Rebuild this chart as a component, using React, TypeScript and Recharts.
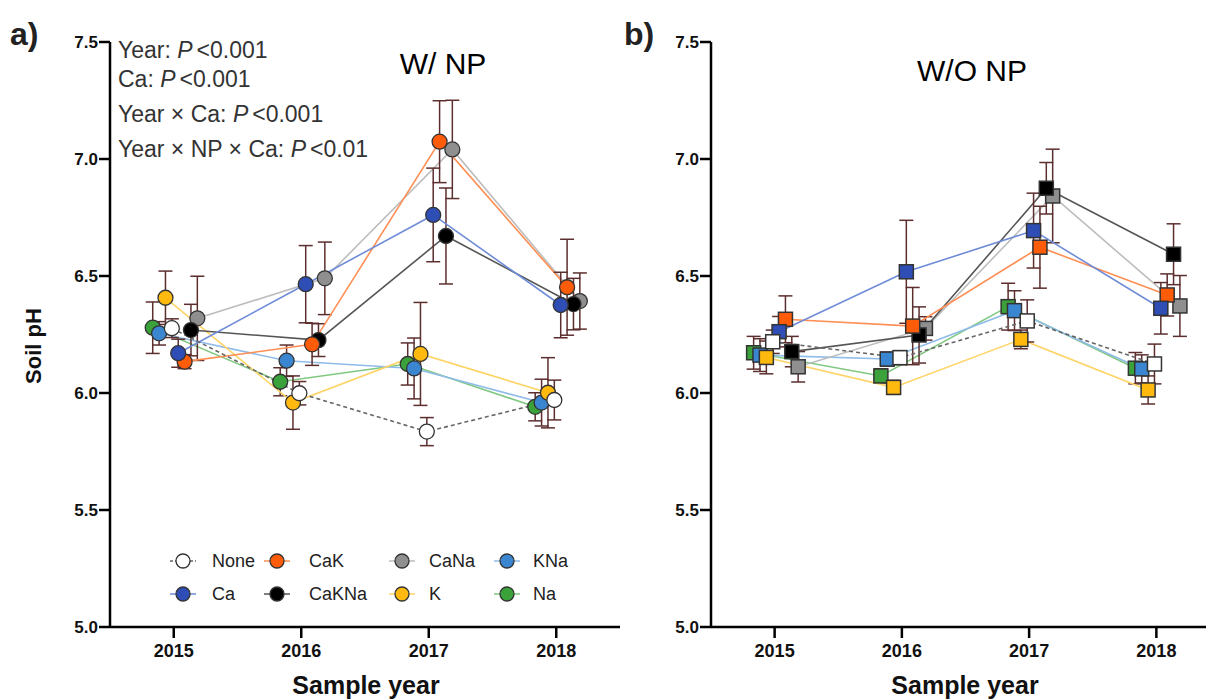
import { LineChart, Line, XAxis, YAxis, ErrorBar } from 'recharts';

// Sample years and axis ticks
const years = [2015, 2016, 2017, 2018];
const yTicks = [5.0, 5.5, 6.0, 6.5, 7.0, 7.5];

// a) W/ NP – mean soil pH
const aNone = [6.277, 5.999, 5.835, 5.97];
const aCa = [6.17, 6.465, 6.761, 6.376];
const aCaK = [6.134, 6.208, 7.074, 6.452];
const aCaKNa = [6.269, 6.226, 6.671, 6.38];
const aCaNa = [6.319, 6.49, 7.041, 6.393];
const aK = [6.407, 5.959, 6.167, 6.001];
const aKNa = [6.255, 6.138, 6.105, 5.959];
const aNa = [6.279, 6.048, 6.124, 5.941];

// a) W/ NP – standard errors
const aNoneSe = [0.04, 0.05, 0.06, 0.085];
const aCaSe = [0.06, 0.165, 0.2, 0.14];
const aCaKSe = [0.03, 0.09, 0.175, 0.205];
const aCaKNaSe = [0.11, 0.07, 0.205, 0.11];
const aCaNaSe = [0.18, 0.155, 0.21, 0.12];
const aKSe = [0.114, 0.114, 0.22, 0.15];
const aKNaSe = [0.05, 0.067, 0.13, 0.1];
const aNaSe = [0.11, 0.06, 0.09, 0.06];

// b) W/O NP – mean soil pH
const bNone = [6.219, 6.151, 6.308, 6.124];
const bCa = [6.262, 6.518, 6.694, 6.362];
const bCaK = [6.315, 6.286, 6.623, 6.419];
const bCaKNa = [6.177, 6.248, 6.875, 6.593];
const bCaNa = [6.112, 6.276, 6.842, 6.372];
const bK = [6.152, 6.024, 6.229, 6.013];
const bKNa = [6.162, 6.145, 6.352, 6.103];
const bNa = [6.172, 6.073, 6.369, 6.106];

// b) W/O NP – standard errors
const bNoneSe = [0.05, 0.03, 0.09, 0.085];
const bCaSe = [0.065, 0.22, 0.16, 0.11];
const bCaKSe = [0.1, 0.165, 0.175, 0.09];
const bCaKNaSe = [0.065, 0.12, 0.11, 0.13];
const bCaNaSe = [0.065, 0.05, 0.2, 0.13];
const bKSe = [0.07, 0.03, 0.04, 0.06];
const bKNaSe = [0.07, 0.03, 0.085, 0.06];
const bNaSe = [0.07, 0.03, 0.1, 0.067];

// series styling (dodge = horizontal shift in years so points don't overlap)
const seriesStyle = [
  { name: 'None', fill: '#ffffff', line: '#666666', dash: '4 3', dodge: -0.015 },
  { name: 'Ca', fill: '#2e4db5', line: '#6f8cd8', dash: undefined, dodge: 0.035 },
  { name: 'CaK', fill: '#ff5c0a', line: '#ff8f55', dash: undefined, dodge: 0.085 },
  { name: 'CaKNa', fill: '#000000', line: '#555555', dash: undefined, dodge: 0.135 },
  { name: 'CaNa', fill: '#8f8f8f', line: '#bdbdbd', dash: undefined, dodge: 0.185 },
  { name: 'K', fill: '#ffb90f', line: '#ffd466', dash: undefined, dodge: -0.065 },
  { name: 'KNa', fill: '#3b86d1', line: '#8fbce9', dash: undefined, dodge: -0.115 },
  { name: 'Na', fill: '#3ba23b', line: '#80c880', dash: undefined, dodge: -0.165 },
];

const aMeans = [aNone, aCa, aCaK, aCaKNa, aCaNa, aK, aKNa, aNa];
const aSes = [aNoneSe, aCaSe, aCaKSe, aCaKNaSe, aCaNaSe, aKSe, aKNaSe, aNaSe];
const bMeans = [bNone, bCa, bCaK, bCaKNa, bCaNa, bK, bKNa, bNa];
const bSes = [bNoneSe, bCaSe, bCaKSe, bCaKNaSe, bCaNaSe, bKSe, bKNaSe, bNaSe];

const FONT = '"Liberation Sans", Arial, Helvetica, sans-serif';
const ERR = '#5c2e2e';

const buildRows = (means: number[], ses: number[], dodge: number) =>
  years.map((yr, i) => ({ x: yr + dodge, y: means[i], err: ses[i] }));

const makeSquare = (fill: string) => (p: any) => {
  if (p.cx == null || p.cy == null) return <g key={`sq-${p.index}`} />;
  return (
    <rect
      key={`sq-${p.index}`}
      x={p.cx - 7}
      y={p.cy - 7}
      width={14}
      height={14}
      fill={fill}
      stroke="#333"
      strokeWidth={1.5}
      strokeDasharray="none"
    />
  );
};

type PanelProps = {
  means: number[][];
  ses: number[][];
  square?: boolean;
  width: number;
  margin: { top: number; right: number; bottom: number; left: number };
};

const Panel = ({ means, ses, square, width, margin }: PanelProps) => {
  // draw back-to-front so None / Ca end up on top like the original
  const order = [7, 6, 5, 4, 3, 2, 1, 0];
  return (
    <LineChart width={width} height={700} margin={margin}>
      <XAxis
        type="number"
        dataKey="x"
        domain={[2014.5, 2018.5]}
        ticks={years}
        allowDataOverflow
        height={73}
        tickSize={11}
        tickMargin={6}
        axisLine={{ stroke: '#000', strokeWidth: 2.5 }}
        tickLine={{ stroke: '#000', strokeWidth: 2.5 }}
        tick={{ fill: '#111', fontSize: 18, fontWeight: 700, fontFamily: FONT }}
      />
      <YAxis
        type="number"
        domain={[5, 7.5]}
        ticks={yTicks}
        allowDataOverflow
        width={70}
        tickSize={11}
        tickMargin={1}
        tickFormatter={(v: number) => v.toFixed(1)}
        axisLine={{ stroke: '#000', strokeWidth: 2.5 }}
        tickLine={{ stroke: '#000', strokeWidth: 2.5 }}
        tick={{ fill: '#111', fontSize: 17, fontWeight: 700, fontFamily: FONT }}
      />
      {order.map(i => {
        const s = seriesStyle[i];
        return (
          <Line
            key={s.name}
            data={buildRows(means[i], ses[i], s.dodge)}
            dataKey="y"
            name={s.name}
            stroke={s.line}
            strokeWidth={1.6}
            strokeDasharray={s.dash}
            isAnimationActive={false}
            activeDot={false}
            dot={
              square
                ? makeSquare(s.fill)
                : { r: 7.5, fill: s.fill, stroke: '#333', strokeWidth: 1.3, strokeDasharray: 'none' }
            }
          >
            <ErrorBar dataKey="err" direction="y" width={7} stroke={ERR} strokeWidth={1.5} />
          </Line>
        );
      })}
    </LineChart>
  );
};

// legend layout: 2 rows x 4 cols
const legendRows = [
  ['None', 'CaK', 'CaNa', 'KNa'],
  ['Ca', 'CaKNa', 'K', 'Na'],
];
const legendIconX = [183, 277, 402, 507];
const legendTextX = [212, 309, 429, 533];
const legendRowY = [561, 594];

const statLines = [
  ['Year: ', '<0.001'],
  ['Ca: ', '<0.001'],
  ['Year × Ca: ', '<0.001'],
  ['Year × NP × Ca: ', '<0.01'],
];
const statY = [58, 87, 122, 157];

export default function App() {
  return (
    <div
      style={{
        position: 'relative',
        width: 1206,
        height: 700,
        overflow: 'hidden',
        background: '#fff',
        fontFamily: FONT,
      }}
    >
      <style>{`html, body { margin: 0; padding: 0; overflow: hidden; }`}</style>
      <div style={{ position: 'absolute', left: 0, top: 0 }}>
        <Panel means={aMeans} ses={aSes} width={640} margin={{ top: 42, right: 20, bottom: 0, left: 40 }} />
      </div>
      <div style={{ position: 'absolute', left: 640, top: 0 }}>
        <Panel means={bMeans} ses={bSes} square width={580} margin={{ top: 42, right: 0, bottom: 0, left: 1 }} />
      </div>

      <svg
        width={1206}
        height={700}
        style={{ position: 'absolute', left: 0, top: 0, pointerEvents: 'none' }}
        fontFamily={FONT}
      >
        <text x={10} y={45} fontSize={32} fontWeight={700} fill="#222">a)</text>
        <text x={624} y={45} fontSize={32} fontWeight={700} fill="#222">b)</text>

        <text x={443} y={74} fontSize={30} textAnchor="middle" fill="#000">W/ NP</text>
        <text x={972} y={81} fontSize={30} textAnchor="middle" fill="#000">W/O NP</text>

        {statLines.map((l, i) => (
          <text key={i} x={118} y={statY[i]} fontSize={23} fill="#333">
            {l[0]}
            <tspan fontStyle="italic">P</tspan>
            <tspan dx={4}>{l[1]}</tspan>
          </text>
        ))}

        <text
          x={33}
          y={346}
          fontSize={22}
          fontWeight={700}
          fill="#111"
          textAnchor="middle"
          dominantBaseline="central"
          transform="rotate(-90 33 346)"
        >
          Soil pH
        </text>
        <text x={366} y={694} fontSize={25} fontWeight={700} fill="#111" textAnchor="middle">Sample year</text>
        <text x={965} y={694} fontSize={25} fontWeight={700} fill="#111" textAnchor="middle">Sample year</text>

        {legendRows.map((row, r) =>
          row.map((name, c) => {
            const s = seriesStyle.find(d => d.name === name)!;
            const cx = legendIconX[c];
            const cy = legendRowY[r];
            return (
              <g key={name}>
                <line x1={cx - 13} x2={cx + 13} y1={cy} y2={cy} stroke={s.line} strokeWidth={1.5} strokeDasharray={s.dash ? '3 2' : undefined} />
                <circle cx={cx} cy={cy} r={7} fill={s.fill} stroke="#333" strokeWidth={1.3} />
                <text x={legendTextX[c]} y={cy} dominantBaseline="central" fontSize={18} fill="#222">{name}</text>
              </g>
            );
          })
        )}
      </svg>
    </div>
  );
}
